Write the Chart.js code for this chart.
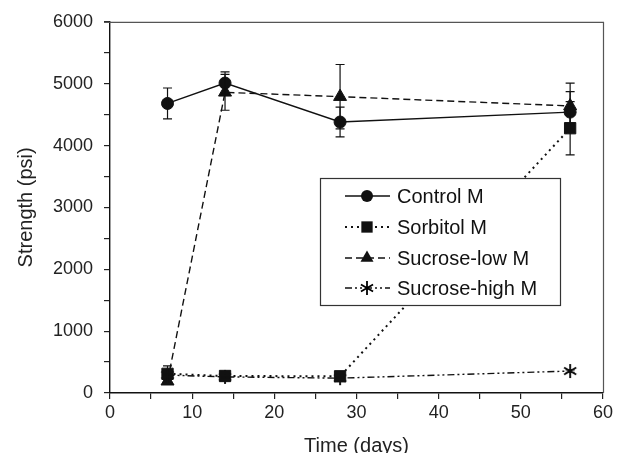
<!DOCTYPE html>
<html>
<head>
<meta charset="utf-8">
<script src="https://cdn.jsdelivr.net/npm/chart.js@4/dist/chart.umd.min.js"></script>
<style>
  html, body { margin: 0; padding: 0; background: #fff; }
  canvas { display: block; }
</style>
</head>
<body>
<canvas id="strengthChart" width="620" height="453"></canvas>
<script>
// --- Data ---
const days = [7, 14, 28, 56];

const controlM = [4680, 5010, 4380, 4540];
const controlErr = [250, 180, 240, 330];

const sorbitolM = [310, 275, 270, 4280];
const sorbitolErr = [130, 40, 40, 430];

const sucroseLowM = [190, 4860, 4790, 4640];
const sucroseLowErr = [40, 290, 520, 370];

const sucroseHighM = [290, 260, 240, 355];
const sucroseHighErr = [20, 20, 20, 20];

const seriesLabels = ['Control M', 'Sorbitol M', 'Sucrose-low M', 'Sucrose-high M'];

const FONT = "'Liberation Sans', Arial, Helvetica, sans-serif";
const INK = '#111';

// six-armed asterisk marker
const asterisk = (() => {
    const c = document.createElement('canvas');
    c.width = 16; c.height = 16;
    const g = c.getContext('2d');
    g.strokeStyle = '#000';
    g.lineWidth = 1.8;
    g.beginPath();
    for (let k = 0; k < 3; k++) {
        const a = Math.PI / 2 + k * Math.PI / 3;
        g.moveTo(8 + Math.cos(a) * 7, 8 - Math.sin(a) * 7);
        g.lineTo(8 - Math.cos(a) * 7, 8 + Math.sin(a) * 7);
    }
    g.stroke();
    return c;
})();

const toPoints = (vals) => vals.map((v, i) => ({ x: days[i], y: v }));

const makeSet = (label, vals, errs, style, radius, dash, width) => ({
    label: label,
    data: toPoints(vals),
    errors: errs,
    borderColor: INK,
    backgroundColor: INK,
    borderWidth: width,
    borderDash: dash,
    pointStyle: style,
    pointRadius: radius,
    pointBorderWidth: 1,
    pointBackgroundColor: INK,
    pointBorderColor: INK,
    tension: 0
});

// error bars, frame and hand-drawn legend
const decorations = {
    id: 'decorations',
    afterDatasetsDraw(chart) {
        const ctx = chart.ctx;
        const xs = chart.scales.x, ys = chart.scales.y;
        ctx.save();
        ctx.strokeStyle = INK;
        ctx.lineWidth = 1.2;
        ctx.setLineDash([]);
        chart.data.datasets.forEach(ds => {
            ds.data.forEach((p, j) => {
                const e = ds.errors[j];
                const px = xs.getPixelForValue(p.x);
                const top = ys.getPixelForValue(p.y + e);
                const bot = ys.getPixelForValue(p.y - e);
                ctx.beginPath();
                ctx.moveTo(px, top); ctx.lineTo(px, bot);
                ctx.moveTo(px - 4.5, top); ctx.lineTo(px + 4.5, top);
                ctx.moveTo(px - 4.5, bot); ctx.lineTo(px + 4.5, bot);
                ctx.stroke();
            });
        });
        // top and right frame
        const a = chart.chartArea;
        ctx.strokeStyle = '#555';
        ctx.lineWidth = 1.2;
        ctx.beginPath();
        ctx.moveTo(a.left - 6, a.top + 0.5);
        ctx.lineTo(a.right + 0.5, a.top + 0.5);
        ctx.lineTo(a.right + 0.5, a.bottom);
        ctx.stroke();
        ctx.restore();
    },
    afterDraw(chart) {
        const ctx = chart.ctx;
        ctx.save();
        const bx = 320, by = 178, bw = 240, bh = 127;
        ctx.fillStyle = '#fff';
        ctx.fillRect(bx, by, bw, bh);
        ctx.strokeStyle = '#333';
        ctx.lineWidth = 1.2;
        ctx.strokeRect(bx + 0.5, by + 0.5, bw, bh);
        const rows = [196, 227, 258, 288];
        chart.data.datasets.forEach((ds, i) => {
            const y = rows[i];
            ctx.strokeStyle = INK;
            ctx.lineWidth = ds.borderWidth;
            ctx.setLineDash(ds.borderDash);
            ctx.beginPath();
            ctx.moveTo(345, y); ctx.lineTo(390, y);
            ctx.stroke();
            ctx.setLineDash([]);
            drawMarker(ctx, ds.pointStyle, ds.pointRadius, 367, y);
            ctx.fillStyle = INK;
            ctx.font = '20px ' + FONT;
            ctx.textBaseline = 'middle';
            ctx.textAlign = 'left';
            ctx.fillText(ds.label, 397, y + 1);
        });
        ctx.restore();
    }
};

function drawMarker(ctx, style, r, x, y) {
    ctx.fillStyle = INK;
    ctx.beginPath();
    if (style === 'circle') {
        ctx.arc(x, y, r, 0, Math.PI * 2);
    } else if (style === 'rect') {
        const s = r * Math.SQRT1_2;
        ctx.rect(x - s, y - s, 2 * s, 2 * s);
    } else if (style === 'triangle') {
        ctx.moveTo(x, y - r);
        ctx.lineTo(x + r * Math.sin(Math.PI / 3), y + r / 2);
        ctx.lineTo(x - r * Math.sin(Math.PI / 3), y + r / 2);
        ctx.closePath();
    } else {
        ctx.drawImage(style, x - style.width / 2, y - style.height / 2);
        return;
    }
    ctx.fill();
}

const tickFont = { family: FONT, size: 18 };
const titleFont = { family: FONT, size: 20, lineHeight: 1 };

new Chart(document.getElementById('strengthChart'), {
    type: 'line',
    data: {
        datasets: [
            makeSet(seriesLabels[0], controlM, controlErr, 'circle', 6, [], 1.4),
            makeSet(seriesLabels[1], sorbitolM, sorbitolErr, 'rect', 8, [2, 4], 2),
            makeSet(seriesLabels[2], sucroseLowM, sucroseLowErr, 'triangle', 7.5, [7, 4], 1.4),
            makeSet(seriesLabels[3], sucroseHighM, sucroseHighErr, asterisk, 8, [7, 3, 2, 3, 2, 3], 1.4)
        ]
    },
    options: {
        responsive: false,
        animation: false,
        devicePixelRatio: 1,
        layout: { padding: { top: 19, right: 17, left: 0, bottom: 0 } },
        plugins: { legend: { display: false }, tooltip: { enabled: false } },
        scales: {
            x: {
                type: 'linear',
                min: 0, max: 60,
                afterFit: s => { s.height = 60; },
                ticks: {
                    stepSize: 5, autoSkip: false, maxRotation: 0,
                    padding: 3, color: '#222', font: tickFont,
                    callback: v => (v % 10 === 0 ? v : '')
                },
                grid: { drawOnChartArea: false, tickLength: 6, color: '#222', lineWidth: 1.2 },
                border: { display: true, color: INK, width: 1.4 },
                title: { display: true, text: 'Time (days)', color: '#222', font: titleFont, padding: { top: 0, bottom: -3 } }
            },
            y: {
                min: 0, max: 6000,
                afterFit: s => { s.width = 110; },
                ticks: {
                    stepSize: 500, autoSkip: false,
                    padding: 11, color: '#222', font: tickFont,
                    callback: v => (v % 1000 === 0 ? v : '')
                },
                grid: { drawOnChartArea: false, tickLength: 6, color: '#222', lineWidth: 1.2 },
                border: { display: true, color: INK, width: 1.4 },
                title: { display: true, text: 'Strength (psi)', color: '#222', font: { family: FONT, size: 20 }, padding: { top: 14, bottom: 0 } }
            }
        }
    },
    plugins: [decorations]
});
</script>
</body>
</html>
